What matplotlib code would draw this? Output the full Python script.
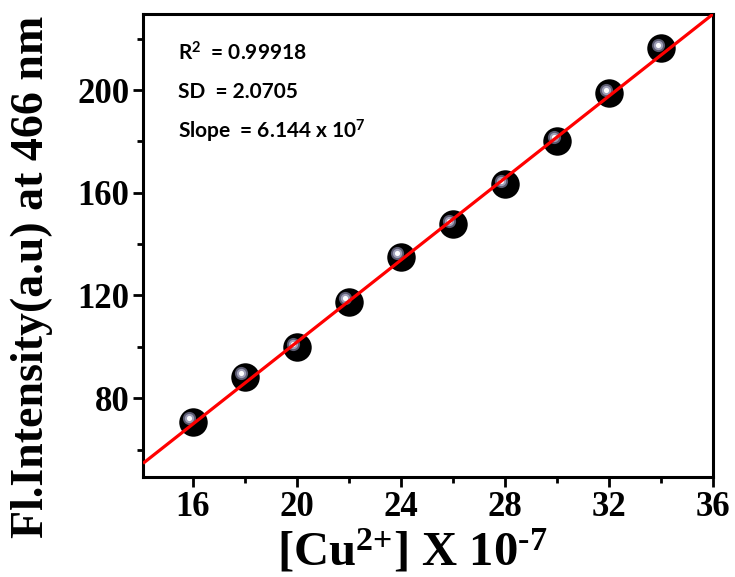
import numpy as np
import matplotlib
matplotlib.use('Agg')
import matplotlib.pyplot as plt
from matplotlib.ticker import MultipleLocator
from matplotlib.transforms import offset_copy

plt.rcParams['font.family'] = 'Liberation Serif'
plt.rcParams['font.weight'] = 'bold'
plt.rcParams['axes.labelweight'] = 'bold'
plt.rcParams['mathtext.fontset'] = 'custom'
plt.rcParams['mathtext.bf'] = 'Liberation Serif:bold'
plt.rcParams['mathtext.rm'] = 'Liberation Serif:bold'
plt.rcParams['mathtext.sf'] = 'Lato:bold'
plt.rcParams['mathtext.default'] = 'bf'

# concentration of Cu2+ (x 10^-7) and fluorescence intensity at 466 nm
conc = [16, 18, 20, 22, 24, 26, 28, 30, 32, 34]
intensity = [70.8, 88.3, 99.8, 117.5, 135.0, 147.8, 163.4, 180.2, 198.7, 216.2]

x_ticks = [16, 20, 24, 28, 32, 36]
y_ticks = [80, 120, 160, 200]
stats = ["R$^{\\mathsf{2}}$  = 0.99918", "SD  = 2.0705", "Slope  = 6.144 x 10$^{\\mathsf{7}}$"]

W, H = 735, 577
fig = plt.figure(figsize=(W / 100, H / 100), dpi=100)
ax = fig.add_axes([0.1946, 0.1733, 0.7755, 0.8024])

# linear fit
k, b = np.polyfit(conc, intensity, 1)
xf = np.array([14.08, 36.0])
ax.plot(xf, k * xf + b, color='#ff0000', lw=2.3, zorder=5, solid_capstyle='butt')

# shiny black balls
ax.scatter(conc, intensity, s=420, color='black', zorder=3, lw=0)
hl = offset_copy(ax.transData, fig=fig, x=-3.5, y=3.5, units='dots')
ax.scatter(conc, intensity, s=90, color='#5a5a70', zorder=4, lw=0, transform=hl)
ax.scatter(conc, intensity, s=45, color='#a0a0b8', zorder=4, lw=0, transform=hl)
ax.scatter(conc, intensity, s=14, color='#ffffff', zorder=4, lw=0, transform=hl)

ax.set_xlim(14.08, 36.0)
ax.set_ylim(49.3, 229.6)
ax.set_xticks(x_ticks)
ax.set_yticks(y_ticks)
ax.xaxis.set_minor_locator(MultipleLocator(2))
ax.yaxis.set_minor_locator(MultipleLocator(20))
ax.tick_params(which='both', direction='out', width=2, top=False, right=False)
ax.tick_params(which='major', length=7, labelsize=25, pad=3)
ax.tick_params(which='minor', length=4)
for s in ax.spines.values():
    s.set_linewidth(2.2)

# axis titles placed where the reference has them
fig.text(412 / W, 1 - 565 / H, "[Cu$^{2{+}}$] X 10$^{\\text{-7}}$", fontsize=35,
         fontweight='bold', ha='center', va='baseline')
fig.text(32 / W, 1 - 277 / H, "Fl.Intensity(a.u) at 466 nm", fontsize=33,
         fontweight='bold', ha='center', va='center', rotation=90)

for i, t in enumerate(stats):
    ax.text(178, H - (52 + 39.5 * i), t, transform=None, fontfamily='Lato',
            fontweight='bold', fontsize=15, va='center', ha='left')

fig.savefig('out.png', dpi=100)
